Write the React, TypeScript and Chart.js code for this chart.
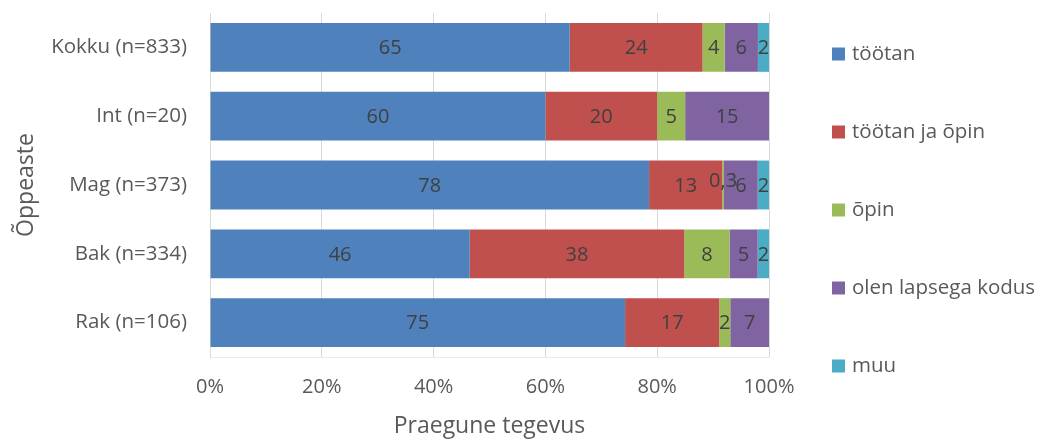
import React, { useEffect, useRef } from "react";
import { Chart, registerables } from "chart.js";

Chart.register(...registerables);

const categories = ["Kokku (n=833)", "Int (n=20)", "Mag (n=373)", "Bak (n=334)", "Rak (n=106)"];
const seriesNames = ["töötan", "töötan ja õpin", "õpin", "olen lapsega kodus", "muu"];
const seriesColors = ["#4F81BD", "#C0504D", "#9BBB59", "#8064A2", "#4BACC6"];
const tootan = [65, 60, 78, 46, 75];
const tootanJaOpin = [24, 20, 13, 38, 17];
const opin = [4, 5, 0.3, 8, 2];
const lapsegaKodus = [6, 15, 6, 5, 7];
const muu = [2, 0, 2, 2, 0];
const xTickValues = [0, 20, 40, 60, 80, 100];
const xTitle = "Praegune tegevus";
const yTitle = "Õppeaste";

const seriesValues = [tootan, tootanJaOpin, opin, lapsegaKodus, muu];
const FONT = "'Open Sans', sans-serif";

const totals = categories.map((_, j) => seriesValues.reduce((s, arr) => s + arr[j], 0));

const formatLabel = (v: number) => (Number.isInteger(v) ? String(v) : String(v).replace(".", ","));

const dataLabelPlugin = {
  id: "dataLabels",
  afterDatasetsDraw(chart: any) {
    const ctx = chart.ctx;
    ctx.save();
    ctx.font = `20px ${FONT}`;
    ctx.fillStyle = "#404040";
    ctx.textAlign = "center";
    ctx.textBaseline = "middle";
    chart.data.datasets.forEach((ds: any, i: number) => {
      const meta = chart.getDatasetMeta(i);
      meta.data.forEach((bar: any, j: number) => {
        const raw = seriesValues[i][j];
        if (!raw) return;
        const p = bar.getCenterPoint();
        const dy = raw < 1 ? -5 : 0;
        ctx.fillText(formatLabel(raw), p.x, p.y + dy + 1);
      });
    });
    ctx.restore();
  },
};

const legendPlugin = {
  id: "sideLegend",
  afterDraw(chart: any) {
    const ctx = chart.ctx;
    const { top, bottom, right } = chart.chartArea;
    const n = chart.data.datasets.length;
    const spacing = 78;
    const mid = (top + bottom) / 2 + 25;
    const startY = mid - ((n - 1) * spacing) / 2;
    const boxX = right + 63;
    ctx.save();
    ctx.font = `20.5px ${FONT}`;
    ctx.textAlign = "left";
    ctx.textBaseline = "middle";
    chart.data.datasets.forEach((ds: any, i: number) => {
      const cy = startY + i * spacing;
      ctx.fillStyle = ds.backgroundColor;
      ctx.fillRect(boxX, cy - 6.5, 13, 13);
      ctx.fillStyle = "#595959";
      ctx.fillText(ds.label, boxX + 20, cy);
    });
    ctx.restore();
  },
};

export default function App() {
  const ref = useRef<HTMLCanvasElement>(null);
  useEffect(() => {
    if (!ref.current) return;
    const chart = new Chart(ref.current, {
      type: "bar",
      data: {
        labels: categories,
        datasets: seriesNames.map((name, i) => ({
          label: name,
          data: seriesValues[i].map((v, j) => (v / totals[j]) * 100),
          backgroundColor: seriesColors[i],
          borderWidth: 0,
          barPercentage: 0.71,
          categoryPercentage: 1,
        })),
      },
      options: {
        indexAxis: "y",
        animation: false,
        responsive: true,
        maintainAspectRatio: false,
        layout: { padding: { left: 0, top: 13, right: 269, bottom: 0 } },
        plugins: {
          legend: { display: false },
          tooltip: { enabled: false },
        },
        scales: {
          x: {
            stacked: true,
            min: 0,
            max: 100,
            afterBuildTicks: (scale: any) => {
              scale.ticks = xTickValues.map((v) => ({ value: v }));
            },
            afterFit: (scale: any) => {
              scale.height = 83;
              scale.paddingLeft = 0;
              scale.paddingRight = 0;
            },
            grid: { color: "#d9d9d9", lineWidth: 1, drawTicks: false },
            border: { display: true, color: "#ebebeb", width: 1 },
            ticks: {
              padding: 18,
              color: "#595959",
              font: { family: FONT, size: 20 },
              callback: (v: any) => `${v}%`,
            },
            title: {
              display: true,
              text: xTitle,
              color: "#595959",
              font: { family: FONT, size: 23 },
              padding: { top: 0, bottom: 0 },
            },
          },
          y: {
            stacked: true,
            afterFit: (scale: any) => {
              scale.width = 210;
              scale.paddingTop = 0;
              scale.paddingBottom = 0;
            },
            grid: { display: false, drawTicks: false },
            border: { display: true, color: "#d9d9d9", width: 1 },
            ticks: {
              padding: 23,
              color: "#595959",
              font: { family: FONT, size: 20.5 },
            },
            title: {
              display: true,
              text: yTitle,
              color: "#595959",
              font: { family: FONT, size: 23 },
              padding: { top: 13, bottom: 0 },
            },
          },
        },
      },
      plugins: [dataLabelPlugin, legendPlugin],
    });
    return () => chart.destroy();
  }, []);
  return (
    <div style={{ position: "fixed", left: 0, top: 0, width: 1038, height: 440, background: "#fff" }}>
      <canvas ref={ref} />
    </div>
  );
}
